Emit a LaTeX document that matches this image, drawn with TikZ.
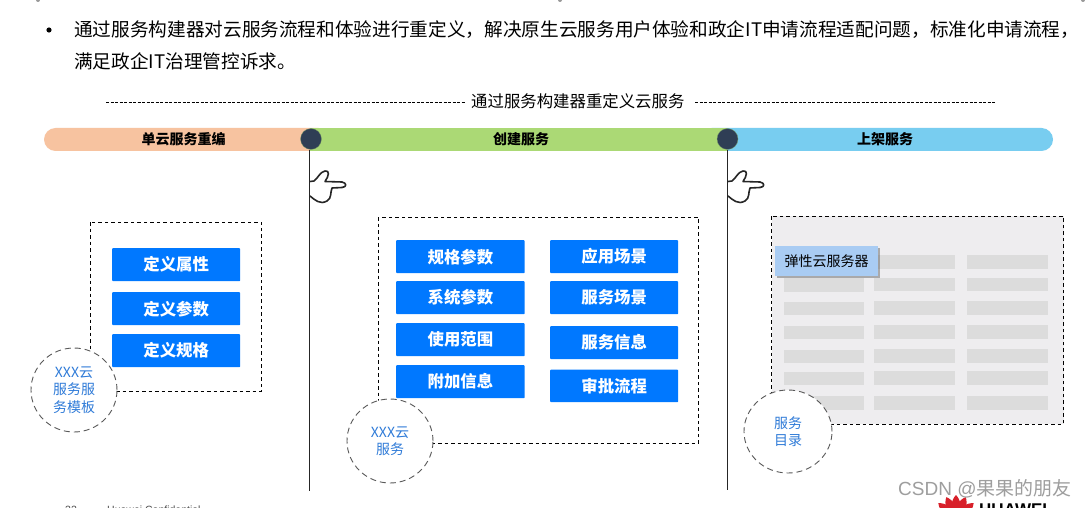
\documentclass[tikz,border=0pt]{standalone}
\usepackage{fontspec}
\setmainfont{Noto Sans CJK SC}
\newfontfamily\latinfont{Liberation Sans}
\usetikzlibrary{shadows,shapes.geometric}
\definecolor{peach}{HTML}{F7C3A0}
\definecolor{lgreen}{HTML}{ABD975}
\definecolor{lblue}{HTML}{78CDF0}
\definecolor{dot}{HTML}{2F3E55}
\definecolor{bluebox}{HTML}{0078FF}
\definecolor{circtext}{HTML}{2F7BD8}
\definecolor{panel}{HTML}{EEEDEF}
\definecolor{rowgray}{HTML}{DCDCDC}
\definecolor{tip}{HTML}{A9CCF3}
\definecolor{hwred}{HTML}{D8202A}
\tikzset{
  bluecard/.style={fill=bluebox,draw=none,rounded corners=0.8pt,minimum width=128.5pt,minimum height=33pt,inner sep=0,text=white,font=\fontsize{16.4}{16}\selectfont\bfseries,anchor=north west},
  dashbox/.style={draw=black,line width=0.9pt,dash pattern=on 3.5pt off 3pt},
  tagcirc/.style={draw=black!65,line width=0.9pt,dash pattern=on 6pt off 4pt,fill=white,ellipse,minimum width=86pt,minimum height=84pt,inner sep=0,text=circtext,align=center,font=\fontsize{14}{17.5}\selectfont},
  barlabel/.style={font=\fontsize{14}{14}\selectfont\bfseries,text=black},
  milestone/.style={circle,fill=dot,draw=lgreen!60!dot,line width=0.3pt,minimum size=21pt,inner sep=0},
  stem/.style={draw=black!85,line width=0.8pt},
  handline/.style={draw=black!85,line width=1.6pt,line join=round,line cap=round},
  titlerule/.style={draw=black,line width=0.8pt,dash pattern=on 3pt off 1.5pt},
  headline/.style={font=\fontsize{18.65}{18}\selectfont,anchor=west,inner sep=0,text=black},
}
\begin{document}
\begin{tikzpicture}[x=1pt,y=-1pt]
\useasboundingbox (0,0) rectangle (1085,508);
\clip (0,0) rectangle (1085,508);
\fill[white] (0,0) rectangle (1085,508);
% top marks
\fill[black!40] (38,0) circle (2);
\fill[black!40] (560,0) circle (2);
\fill[black!40] (1083,0) circle (2);
% heading
\fill[black] (49,30) circle (2.6);
\node[headline] (l1) at (74,30) {通过服务构建器对云服务流程和体验进行重定义，解决原生云服务用户体验和政企IT申请流程适配问题，标准化申请流程，};
\node[headline] (l2) at (74,61) {满足政企IT治理管控诉求。};
% title
\node[font=\fontsize{16.4}{16}\selectfont,text=black,anchor=west,inner sep=0] (title) at (471,101) {通过服务构建器重定义云服务};
\coordinate (tl) at (106,102);
\coordinate (tla) at (465,102);
\coordinate (tra) at (695,102);
\coordinate (tr) at (995,102);
\draw[titlerule] (tl) -- (tla);
\draw[titlerule] (tra) -- (tr);
% bar
\fill[peach,rounded corners=11.5pt] (44,128) rectangle (330,151);
\fill[lblue,rounded corners=11.5pt] (700,128) rectangle (1053,151);
\fill[lgreen] (310,128) rectangle (727,151);
\node[barlabel] (b1) at (183.5,139.5) {单云服务重编};
\node[barlabel] (b2) at (521,139.5) {创建服务};
\node[barlabel] (b3) at (885,139.5) {上架服务};
% milestones
\coordinate (s1) at (309.5,491);
\coordinate (s2) at (727,490);
\node[milestone] (m1) at (311,139) {};
\node[milestone] (m2) at (727.5,139) {};
\draw[stem] (m1.south -| s1) -- (s1);
\draw[stem] (m2.south -| s2) -- (s2);
% hands
\foreach \hx in {0,418}{
\begin{scope}[xshift=\hx pt]
\draw[handline] (310,181.5) -- (314,181) .. controls (318,178) and (320,172) .. (325,171)
  .. controls (330,170) and (329,176) .. (325,181.5) -- (342,182) .. controls (347,183) and (347,187) .. (342,187.5)
  -- (332,188) .. controls (330,193) and (332,198) .. (327,201) .. controls (320,205) and (315,200) .. (310,196);
\end{scope}}
% left group
\draw[dashbox] (90,222) rectangle (261.5,391);
\node[bluecard,minimum width=128pt] (a1) at (112,248) {定义属性};
\node[bluecard,minimum width=128pt] (a2) at (112,292) {定义参数};
\node[bluecard,minimum width=128pt] (a3) at (112,334) {定义规格};
\node[tagcirc] (c1) at (74,390) {XXX云\\服务服\\务模板};
% middle group
\draw[dashbox] (378,217) rectangle (698.5,443);
\node[bluecard] (p1) at (396,240) {规格参数};
\node[bluecard] (p2) at (396,281) {系统参数};
\node[bluecard] (p3) at (396,323) {使用范围};
\node[bluecard] (p4) at (396,365) {附加信息};
\node[bluecard,minimum width=128pt] (q1) at (550,240) {应用场景};
\node[bluecard,minimum width=128pt] (q2) at (550,281) {服务场景};
\node[bluecard,minimum width=128pt] (q3) at (550,326) {服务信息};
\node[bluecard,minimum width=128pt,minimum height=32.5pt] (q4) at (550,369.5) {审批流程};
\node[tagcirc] (c2) at (390,441) {XXX云\\服务};
% right group
\draw[dashbox,fill=panel] (771.7,216) rectangle (1063.5,424);
\foreach \ya/\yb in {278/292,302/315,326/339,350/363,372/385,396/410}{
  \fill[rowgray] (784,\ya) rectangle (864,\yb);
}
\foreach \ya/\yb in {255/269,278/291,301/315,325/339,349/363,371/385,396/410}{
  \fill[rowgray] (874,\ya) rectangle (955,\yb);
  \fill[rowgray] (967,\ya) rectangle (1048,\yb);
}
\node[fill=tip,minimum width=103pt,minimum height=30pt,inner sep=0,anchor=north west,font=\fontsize{14}{14}\selectfont,text=black,drop shadow={shadow xshift=1.5pt,shadow yshift=-1.5pt,fill=black!60,opacity=0.5}] (tipn) at (775,246) {弹性云服务器};
\node[tagcirc,minimum width=88pt,minimum height=83pt] (c3) at (788,431.5) {服务\\目录};
% footer
\node[anchor=west,inner sep=0,font=\latinfont\fontsize{10.5}{11}\selectfont,text=black!70] (f1) at (65,509.5) {32};
\node[anchor=west,inner sep=0,font=\latinfont\fontsize{10.5}{11}\selectfont,text=black!70] (f2) at (107,509.5) {Huawei Confidential};
% logo
\foreach \a in {-50,-25,0,25,50}{
  \begin{scope}[shift={(956,518)},rotate=\a]
    \fill[hwred] (0,0) .. controls (-7,-8) and (-5,-18) .. (0,-23) .. controls (5,-18) and (7,-8) .. (0,0);
  \end{scope}
}
\node[anchor=west,inner sep=0,font=\latinfont\bfseries\fontsize{17}{17}\selectfont,text=black] (hw) at (979,509.5) {HUAWEI};
% watermark
\node[anchor=west,inner sep=0,font=\latinfont\fontsize{19}{19}\selectfont,text=black!38] (wm) at (898,489) {CSDN @\fontspec{Noto Sans CJK SC}果果的朋友};
\end{tikzpicture}
\end{document}
